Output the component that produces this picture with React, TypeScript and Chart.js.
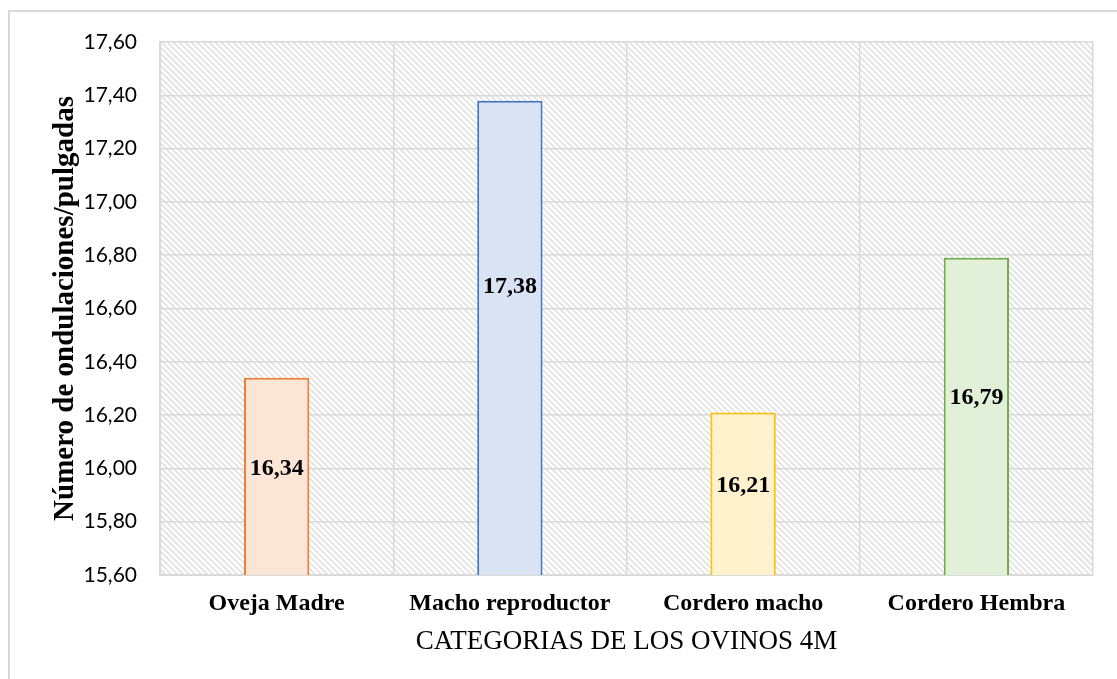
import React, { useEffect, useRef } from "react";
import { Chart, registerables } from "chart.js";

Chart.register(...registerables);

const categories = ["Oveja Madre", "Macho reproductor", "Cordero macho", "Cordero Hembra"];
const values = [16.34, 17.38, 16.21, 16.79];
// axis value at which each data label is centred (labels were hand-placed in the original)
const labelAt = [16.0, 16.68, 15.935, 16.265];
const fillColors = ["#FBE5D6", "#DAE3F3", "#FFF2CC", "#E2F0D9"];
const borderColors = ["#ED7D31", "#4472C4", "#FFC000", "#70AD47"];
const yMin = 15.6;
const yMax = 17.6;
const yStep = 0.2;
const xTitle = "CATEGORIAS DE LOS OVINOS 4M";
const yTitle = "Número de ondulaciones/pulgadas";

const fmt = (v: number) => v.toFixed(2).replace(".", ",");

const hatchPlugin = {
  id: "hatch",
  beforeDraw(chart: any) {
    const { ctx, chartArea } = chart;
    const { left, right, top, bottom } = chartArea;
    ctx.save();
    ctx.strokeStyle = "#d9d9d9";
    ctx.lineWidth = 2;
    ctx.strokeRect(9, 11, 1200, 800);
    ctx.beginPath();
    ctx.rect(left, top, right - left, bottom - top);
    ctx.clip();
    ctx.strokeStyle = "#e0e0e0";
    ctx.lineWidth = 1.6;
    const h = bottom - top;
    const s = 6;
    ctx.beginPath();
    for (let x = left - h; x < right + s; x += s) {
      ctx.moveTo(x, top);
      ctx.lineTo(x + h, bottom);
    }
    ctx.stroke();
    ctx.restore();
  },
};

const labelPlugin = {
  id: "barLabels",
  afterDraw(chart: any) {
    const { ctx } = chart;
    const xs = chart.scales.x;
    const ys = chart.scales.y;
    ctx.save();
    ctx.font = "bold 24px 'Liberation Serif', serif";
    ctx.fillStyle = "#000000";
    ctx.textAlign = "center";
    ctx.textBaseline = "middle";
    values.forEach((v, i) => {
      const x = xs.getPixelForValue(i);
      const y = ys.getPixelForValue(labelAt[i]);
      ctx.fillText(fmt(v), x, y);
    });
    ctx.restore();
  },
};

export default function App() {
  const ref = useRef<HTMLCanvasElement>(null);
  useEffect(() => {
    if (!ref.current) return;
    const chart = new Chart(ref.current, {
      type: "bar",
      data: {
        labels: categories,
        datasets: [
          {
            data: values,
            backgroundColor: fillColors,
            borderColor: borderColors,
            borderWidth: 2,
            categoryPercentage: 1,
            barPercentage: 0.28,
          },
        ],
      },
      options: {
        animation: false,
        responsive: false,
        maintainAspectRatio: false,
        layout: { padding: { left: 48, right: 24, top: 42, bottom: 21 } },
        plugins: { legend: { display: false }, tooltip: { enabled: false } },
        scales: {
          x: {
            grid: { color: "#d9d9d9", lineWidth: 1.5, drawTicks: false, offset: true },
            border: { color: "#d9d9d9", width: 2 },
            ticks: {
              color: "#000",
              padding: 14,
              font: { family: "'Liberation Serif', 'Times New Roman', serif", size: 24, weight: "bold" },
              maxRotation: 0,
            },
            title: {
              display: true,
              text: xTitle,
              color: "#000",
              padding: 0,
              font: { family: "'Liberation Serif', 'Times New Roman', serif", size: 27, weight: "normal" },
            },
            afterFit: (scale: any) => {
              scale.height = 83;
            },
          },
          y: {
            min: yMin,
            max: yMax,
            grid: { color: "#d9d9d9", lineWidth: 1.5, drawTicks: false },
            border: { color: "#d9d9d9", width: 2 },
            ticks: {
              stepSize: yStep,
              color: "#000",
              padding: 23,
              font: { family: "Lato, 'Open Sans', sans-serif", size: 21 },
              callback: (v: any) => fmt(Number(v)),
            },
            title: {
              display: true,
              text: yTitle,
              color: "#000",
              padding: 0,
              font: { family: "'Liberation Serif', 'Times New Roman', serif", size: 29, weight: "bold" },
            },
            afterFit: (scale: any) => {
              scale.width = 112;
            },
          },
        },
      },
      plugins: [hatchPlugin, labelPlugin],
    });
    return () => chart.destroy();
  }, []);
  return (
    <div style={{ position: "fixed", left: 0, top: 0, width: 1117, height: 679, background: "#fff" }}>
      <canvas ref={ref} width={1117} height={679} style={{ display: "block" }} />
    </div>
  );
}
